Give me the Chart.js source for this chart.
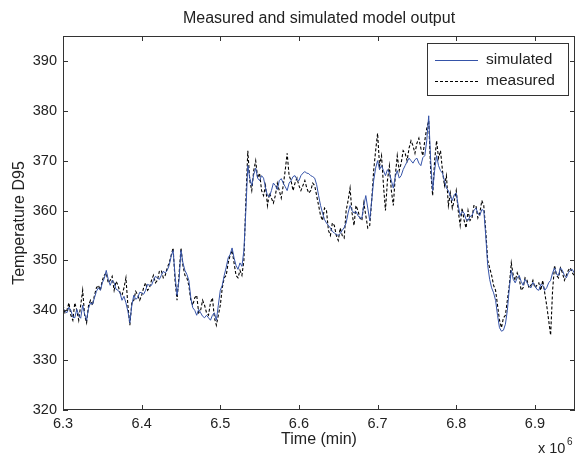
<!DOCTYPE html>
<html>
<head>
<meta charset="utf-8">
<script src="https://cdn.jsdelivr.net/npm/chart.js@4.4.1/dist/chart.umd.min.js"></script>
<style>
  html, body { margin: 0; padding: 0; background: #fff; }
  #wrap { width: 576px; height: 454px; }
</style>
</head>
<body>
<div id="wrap"><canvas id="chart" width="576" height="454"></canvas></div>
<script>
// time in units of 1e6 min
const time = [
  6.3000, 6.3025, 6.3050, 6.3075, 6.3100, 6.3125, 6.3150, 6.3175, 6.3200, 6.3225,
  6.3250, 6.3275, 6.3300, 6.3325, 6.3350, 6.3375, 6.3400, 6.3425, 6.3450, 6.3475,
  6.3500, 6.3525, 6.3550, 6.3575, 6.3600, 6.3625, 6.3650, 6.3675, 6.3700, 6.3725,
  6.3750, 6.3775, 6.3800, 6.3825, 6.3850, 6.3875, 6.3900, 6.3925, 6.3950, 6.3975,
  6.4000, 6.4025, 6.4050, 6.4075, 6.4100, 6.4125, 6.4150, 6.4175, 6.4200, 6.4225,
  6.4250, 6.4275, 6.4300, 6.4325, 6.4350, 6.4375, 6.4400, 6.4425, 6.4450, 6.4475,
  6.4500, 6.4525, 6.4550, 6.4575, 6.4600, 6.4625, 6.4650, 6.4675, 6.4700, 6.4725,
  6.4750, 6.4775, 6.4800, 6.4825, 6.4850, 6.4875, 6.4900, 6.4925, 6.4950, 6.4975,
  6.5000, 6.5025, 6.5050, 6.5075, 6.5100, 6.5125, 6.5150, 6.5175, 6.5200, 6.5225,
  6.5250, 6.5275, 6.5300, 6.5325, 6.5350, 6.5375, 6.5400, 6.5425, 6.5450, 6.5475,
  6.5500, 6.5525, 6.5550, 6.5575, 6.5600, 6.5625, 6.5650, 6.5675, 6.5700, 6.5725,
  6.5750, 6.5775, 6.5800, 6.5825, 6.5850, 6.5875, 6.5900, 6.5925, 6.5950, 6.5975,
  6.6000, 6.6025, 6.6050, 6.6075, 6.6100, 6.6125, 6.6150, 6.6175, 6.6200, 6.6225,
  6.6250, 6.6275, 6.6300, 6.6325, 6.6350, 6.6375, 6.6400, 6.6425, 6.6450, 6.6475,
  6.6500, 6.6525, 6.6550, 6.6575, 6.6600, 6.6625, 6.6650, 6.6675, 6.6700, 6.6725,
  6.6750, 6.6775, 6.6800, 6.6825, 6.6850, 6.6875, 6.6900, 6.6925, 6.6950, 6.6975,
  6.7000, 6.7025, 6.7050, 6.7075, 6.7100, 6.7125, 6.7150, 6.7175, 6.7200, 6.7225,
  6.7250, 6.7275, 6.7300, 6.7325, 6.7350, 6.7375, 6.7400, 6.7425, 6.7450, 6.7475,
  6.7500, 6.7525, 6.7550, 6.7575, 6.7600, 6.7625, 6.7650, 6.7675, 6.7700, 6.7725,
  6.7750, 6.7775, 6.7800, 6.7825, 6.7850, 6.7875, 6.7900, 6.7925, 6.7950, 6.7975,
  6.8000, 6.8025, 6.8050, 6.8075, 6.8100, 6.8125, 6.8150, 6.8175, 6.8200, 6.8225,
  6.8250, 6.8275, 6.8300, 6.8325, 6.8350, 6.8375, 6.8400, 6.8425, 6.8450, 6.8475,
  6.8500, 6.8525, 6.8550, 6.8575, 6.8600, 6.8625, 6.8650, 6.8675, 6.8700, 6.8725,
  6.8750, 6.8775, 6.8800, 6.8825, 6.8850, 6.8875, 6.8900, 6.8925, 6.8950, 6.8975,
  6.9000, 6.9025, 6.9050, 6.9075, 6.9100, 6.9125, 6.9150, 6.9175, 6.9200, 6.9225,
  6.9250, 6.9275, 6.9300, 6.9325, 6.9350, 6.9375, 6.9400, 6.9425, 6.9450, 6.9475,
  6.9500
];

const simulated = [
  340.5, 339.8, 339.5, 340.6, 340.0, 338.6, 338.5, 340.2, 339.0, 338.4,
  341.0, 339.2, 338.0, 340.4, 341.5, 341.2, 342.5, 343.8, 344.5, 344.0,
  345.5, 346.4, 348.0, 346.2, 345.0, 346.0, 345.5, 344.2, 344.0, 343.5,
  342.0, 342.8, 341.5, 339.8, 337.5, 341.0, 343.0, 342.2, 342.5, 343.6,
  343.5, 343.2, 344.0, 345.2, 345.0, 345.0, 346.0, 346.8, 346.5, 346.2,
  347.0, 347.8, 347.5, 348.0, 349.0, 350.8, 352.0, 347.0, 343.0, 346.0,
  352.0, 349.5, 348.0, 347.2, 346.0, 342.5, 340.5, 340.0, 339.0, 340.2,
  339.5, 338.8, 338.5, 339.0, 338.5, 338.0, 339.0, 339.5, 338.0, 341.0,
  344.0, 345.0, 347.0, 348.6, 350.5, 351.2, 352.5, 350.5, 349.0, 348.2,
  349.5, 348.8, 352.0, 360.0, 369.0, 366.5, 365.0, 367.2, 368.5, 366.5,
  366.0, 367.0, 366.5, 364.5, 363.0, 362.8, 364.0, 365.5, 365.0, 364.2,
  366.0, 366.4, 365.5, 364.8, 364.0, 365.5, 366.0, 366.8, 367.0, 366.2,
  366.0, 367.0, 367.5, 367.8, 367.5, 367.4, 367.0, 366.8, 366.5, 365.2,
  363.0, 361.0, 359.5, 358.2, 357.5, 357.0, 356.5, 355.8, 355.5, 355.2,
  355.0, 355.4, 356.0, 356.6, 357.5, 359.5, 361.0, 360.0, 359.5, 359.8,
  359.0, 358.5, 358.5, 361.0, 363.0, 360.5, 358.0, 362.0, 366.0, 368.5,
  370.0, 368.2, 369.0, 368.0, 367.0, 368.2, 367.5, 366.0, 364.5, 366.8,
  368.0, 366.5, 367.0, 368.2, 369.0, 369.8, 370.5, 370.0, 369.5, 370.2,
  370.5, 369.5, 369.0, 370.6, 371.0, 374.0, 379.0, 370.0, 364.0, 368.0,
  371.0, 369.0, 368.0, 367.5, 366.0, 364.5, 364.0, 362.8, 362.0, 363.2,
  363.5, 361.0, 359.0, 359.8, 359.5, 358.2, 358.0, 358.8, 359.0, 360.0,
  360.5, 359.5, 359.0, 360.2, 360.0, 355.0, 349.0, 346.2, 344.5, 343.5,
  342.0, 339.0, 336.5, 335.8, 336.0, 337.2, 340.0, 344.5, 348.0, 346.2,
  345.5, 346.5, 347.0, 345.8, 345.0, 346.2, 345.5, 344.8, 344.5, 345.6,
  345.0, 344.2, 344.0, 345.2, 345.0, 344.0, 344.5, 345.5, 346.0, 347.5,
  348.5, 347.2, 347.0, 348.5, 348.0, 347.0, 346.5, 347.5, 348.0, 348.2,
  347.5
];

const measured = [
  341.0, 339.5, 340.0, 341.5, 339.0, 338.0, 341.5, 340.0, 338.0, 341.0,
  344.0, 339.0, 337.5, 341.0, 342.0, 341.0, 343.0, 344.5, 345.0, 344.0,
  346.0, 347.0, 347.5, 345.5, 346.0, 346.8, 344.0, 345.8, 345.0, 343.5,
  343.0, 344.5, 346.5, 341.0, 337.0, 341.5, 342.0, 343.8, 343.0, 342.0,
  343.0, 344.5, 345.5, 344.0, 344.5, 346.0, 347.0, 345.5, 346.0, 347.8,
  348.0, 346.5, 347.0, 348.5, 349.5, 351.0, 352.5, 346.0, 342.0, 347.0,
  352.5, 349.0, 347.0, 346.5, 345.0, 342.0, 341.0, 342.5, 343.0, 339.5,
  340.0, 342.0, 341.0, 339.5, 339.0, 341.5, 342.5, 338.5, 337.0, 339.0,
  341.0, 344.5, 346.5, 347.0, 349.5, 351.0, 352.0, 349.5, 347.0, 346.5,
  348.0, 347.0, 350.0, 362.0, 372.0, 366.0, 364.0, 368.0, 370.0, 366.5,
  367.5, 364.0, 363.0, 365.0, 361.0, 363.5, 362.5, 361.5, 363.0, 365.5,
  364.0, 362.5, 365.0, 368.0, 371.5, 367.0, 366.0, 364.0, 365.5, 366.5,
  365.0, 364.0, 365.0, 366.0, 364.5, 363.5, 364.0, 365.5, 365.0, 363.0,
  361.0, 359.0, 358.0, 360.5, 360.0, 356.0, 355.0, 357.5, 357.0, 355.0,
  354.0, 356.5, 355.0, 354.5, 360.0, 362.0, 364.5, 359.5, 357.0, 361.0,
  360.0, 358.5, 358.0, 361.5, 359.0, 356.5, 357.0, 362.0, 368.0, 372.0,
  375.5, 369.0, 371.0, 365.0, 360.0, 366.0, 369.0, 364.0, 361.0, 367.0,
  371.0, 368.0, 369.5, 372.0, 371.5, 370.0, 372.5, 374.0, 373.0, 371.5,
  373.5, 374.5, 372.5, 371.0, 374.0, 376.5, 378.0, 368.0, 363.0, 370.0,
  374.0, 370.5, 372.0, 368.0, 365.0, 367.0, 361.0, 363.5, 360.5, 362.0,
  364.0, 360.0, 357.0, 360.5, 358.0, 356.5, 360.0, 358.0, 358.5, 361.0,
  361.0, 358.5, 359.5, 362.0, 361.0, 356.0, 350.0, 348.5, 347.0, 345.0,
  344.0, 341.0, 338.0, 336.5, 338.5, 339.0, 342.0, 345.0, 349.5, 347.0,
  346.0, 347.5, 346.5, 344.0, 344.5, 346.5, 346.0, 344.5, 345.0, 346.0,
  344.5, 345.0, 345.5, 344.0, 346.0, 343.5, 341.0, 338.0, 335.0, 344.0,
  349.0, 347.0, 346.5, 348.5, 347.5, 346.0, 347.0, 348.0, 348.5, 347.5,
  347.0
];

const xTicks = [6.3, 6.4, 6.5, 6.6, 6.7, 6.8, 6.9];
const yTicks = [320, 330, 340, 350, 360, 370, 380, 390];

const FONT = '"Liberation Sans", Arial, sans-serif';
const TXT = '#222';

// matlab style inward ticks, title, axis labels, legend box
const matlabPlugin = {
  id: 'matlab',
  afterDraw(chart) {
    const ctx = chart.ctx;
    const a = chart.chartArea;
    const xs = chart.scales.x, ys = chart.scales.y;
    ctx.save();
    ctx.strokeStyle = '#333';
    ctx.lineWidth = 1;
    ctx.beginPath();
    xTicks.forEach(v => {
      const px = Math.round(xs.getPixelForValue(v)) + 0.5;
      ctx.moveTo(px, a.bottom); ctx.lineTo(px, a.bottom - 5);
      ctx.moveTo(px, a.top); ctx.lineTo(px, a.top + 5);
    });
    yTicks.forEach(v => {
      const py = Math.round(ys.getPixelForValue(v)) + 0.5;
      ctx.moveTo(a.left, py); ctx.lineTo(a.left + 5, py);
      ctx.moveTo(a.right, py); ctx.lineTo(a.right - 5, py);
    });
    ctx.stroke();
    ctx.strokeRect(a.left + 0.5, a.top + 0.5, a.right - a.left - 1, a.bottom - a.top - 1);

    ctx.fillStyle = TXT;
    ctx.textAlign = 'center';
    ctx.textBaseline = 'middle';
    ctx.font = '16px ' + FONT;
    const cx = (a.left + a.right) / 2;
    ctx.fillText('Measured and simulated model output', cx, 19);
    ctx.fillText('Time (min)', cx, 440);
    ctx.save();
    ctx.translate(20, (a.top + a.bottom) / 2);
    ctx.rotate(-Math.PI / 2);
    ctx.fillText('Temperature D95', 0, 0);
    ctx.restore();
    ctx.textAlign = 'left';
    ctx.font = '14.5px ' + FONT;
    ctx.fillText('x 10', 538, 449);
    ctx.font = '10px ' + FONT;
    ctx.fillText('6', 567, 442);

    // legend
    const lx = 427, ly = 43, lw = 141, lh = 52;
    ctx.fillStyle = '#fff';
    ctx.fillRect(lx, ly, lw, lh);
    ctx.strokeStyle = '#333';
    ctx.strokeRect(lx + 0.5, ly + 0.5, lw, lh);
    ctx.font = '15.5px ' + FONT;
    ctx.fillStyle = TXT;
    chart.data.datasets.forEach((ds, i) => {
      const y = ly + 17 + i * 21;
      ctx.strokeStyle = ds.borderColor;
      ctx.lineWidth = 1;
      ctx.setLineDash(ds.borderDash || []);
      ctx.beginPath();
      ctx.moveTo(lx + 8, y + 0.5);
      ctx.lineTo(lx + 51, y + 0.5);
      ctx.stroke();
      ctx.setLineDash([]);
      ctx.fillText(ds.label, lx + 59, y);
    });
    ctx.restore();
  }
};

new Chart(document.getElementById('chart').getContext('2d'), {
  type: 'line',
  data: {
    datasets: [
      {
        label: 'simulated',
        data: time.map((t, i) => ({ x: t, y: simulated[i] })),
        borderColor: '#3553a8',
        borderWidth: 1,
        pointRadius: 0,
        tension: 0
      },
      {
        label: 'measured',
        data: time.map((t, i) => ({ x: t, y: measured[i] })),
        borderColor: '#000',
        borderWidth: 1.1,
        borderDash: [3, 2],
        pointRadius: 0,
        tension: 0
      }
    ]
  },
  options: {
    responsive: false,
    animation: false,
    layout: { padding: { top: 36, right: 1, left: 0, bottom: 0 } },
    plugins: { legend: { display: false }, title: { display: false }, tooltip: { enabled: false } },
    scales: {
      x: {
        type: 'linear',
        min: 6.3,
        max: 6.951,
        grid: { display: false, drawTicks: false },
        border: { display: false },
        afterBuildTicks: s => { s.ticks = xTicks.map(v => ({ value: v })); },
        afterFit: s => { s.height = 44; },
        ticks: {
          padding: 5,
          color: TXT,
          font: { family: FONT, size: 14.5 },
          maxRotation: 0,
          callback: v => v.toFixed(1)
        }
      },
      y: {
        min: 320,
        max: 395,
        grid: { display: false, drawTicks: false },
        border: { display: false },
        afterBuildTicks: s => { s.ticks = yTicks.map(v => ({ value: v })); },
        afterFit: s => { s.width = 63; },
        ticks: {
          padding: 6,
          color: TXT,
          font: { family: FONT, size: 14.5 }
        }
      }
    }
  },
  plugins: [matlabPlugin]
});
</script>
</body>
</html>
